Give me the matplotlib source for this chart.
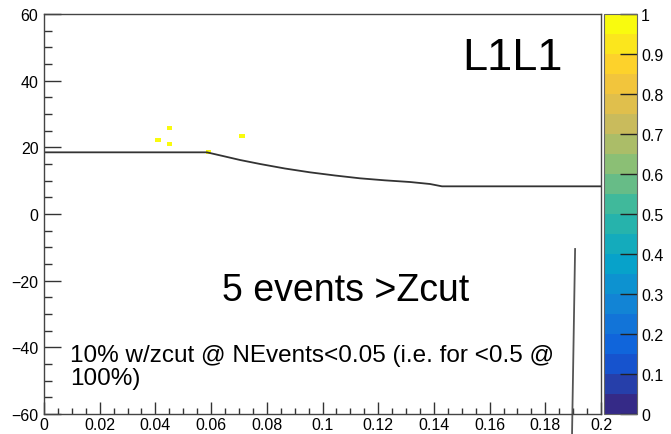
import numpy as np
import matplotlib
matplotlib.use("Agg")
import matplotlib.pyplot as plt
from matplotlib.colors import LinearSegmentedColormap, ListedColormap, Normalize
from matplotlib.ticker import MultipleLocator

plt.rcParams['font.family'] = ['Liberation Sans', 'DejaVu Sans']

# events (x, z)
event_x = [0.041, 0.045, 0.045, 0.059, 0.071]
event_z = [22.2, 25.8, 21.0, 18.6, 23.4]

# zcut curve
cut_x = [0.0, 0.0585, 0.0650, 0.0704, 0.0776, 0.0865, 0.0955, 0.1045, 0.1135,
         0.1224, 0.1314, 0.1386, 0.1429, 0.2]
cut_z = [18.5, 18.5, 17.25, 16.2, 15.0, 13.65, 12.5, 11.55, 10.7,
         10.1, 9.6, 9.0, 8.3, 8.3]

# vertical marker line
vline_x = [0.1907, 0.1896]
vline_z = [-10.5, -66.0]

x_ticks = [0, 0.02, 0.04, 0.06, 0.08, 0.1, 0.12, 0.14, 0.16, 0.18, 0.2]
x_ticklabels = ["0", "0.02", "0.04", "0.06", "0.08", "0.1", "0.12", "0.14", "0.16", "0.18", "0.2"]
y_ticks = [-60, -40, -20, 0, 20, 40, 60]
y_ticklabels = ["\u221260", "\u221240", "\u221220", "0", "20", "40", "60"]
cb_ticks = [0, 0.1, 0.2, 0.3, 0.4, 0.5, 0.6, 0.7, 0.8, 0.9, 1]
cb_ticklabels = ["0", "0.1", "0.2", "0.3", "0.4", "0.5", "0.6", "0.7", "0.8", "0.9", "1"]

# ROOT kBird palette
stops = [0.0, 0.125, 0.25, 0.375, 0.5, 0.625, 0.75, 0.875, 1.0]
red = [0.2082, 0.0592, 0.0780, 0.0232, 0.1802, 0.5301, 0.8186, 0.9956, 0.9764]
green = [0.1664, 0.3599, 0.5041, 0.6419, 0.7178, 0.7492, 0.7328, 0.7862, 0.9832]
blue = [0.5293, 0.8684, 0.8385, 0.7914, 0.6425, 0.4662, 0.3499, 0.1968, 0.0539]
bird = LinearSegmentedColormap.from_list(
    "bird", [(s, (r, g, b)) for s, r, g, b in zip(stops, red, green, blue)])
cmap = ListedColormap(bird(np.linspace(0, 1, 20)))

fig = plt.figure(figsize=(6.71, 4.35), dpi=100)
ax = fig.add_axes([44/671, 1-415/435, 557/671, 400/435])
cax = fig.add_axes([604/671, 1-415/435, 33/671, 400/435])

xedges = np.linspace(0, 0.2, 101)
yedges = np.linspace(-60, 60, 101)
h = ax.hist2d(event_x, event_z, bins=[xedges, yedges], cmap=cmap,
              norm=Normalize(0, 1), cmin=0.5)

ax.plot(cut_x, cut_z, color='#333333', lw=1.3)
ax.plot(vline_x, vline_z, color='#555555', lw=1.3, clip_on=False)

ax.set_xlim(0, 0.2)
ax.set_ylim(-60, 60)
ax.set_xticks(x_ticks)
ax.set_xticklabels(x_ticklabels)
ax.set_yticks(y_ticks)
ax.set_yticklabels(y_ticklabels)
ax.xaxis.set_minor_locator(MultipleLocator(0.005))
ax.yaxis.set_minor_locator(MultipleLocator(5))
ax.tick_params(axis='x', which='major', direction='in', length=9, width=1, labelsize=11.5, pad=2, color='#333333')
ax.tick_params(axis='x', which='minor', direction='in', length=4.5, width=1, color='#333333')
ax.tick_params(axis='y', which='major', direction='in', length=12, width=1, labelsize=11.5, pad=4, color='#333333')
ax.tick_params(axis='y', which='minor', direction='in', length=6, width=1, color='#333333')
for s in ax.spines.values():
    s.set_color('#444444')
    s.set_linewidth(1)

ax.text(0.1500, 47.0, "L1L1", fontsize=32.5, ha='left', va='center', color='black')
ax.text(0.0638, -22.8, "5 events >Zcut", fontsize=27, ha='left', va='center', color='black')
ax.text(0.0093, -45.8, "10% w/zcut @ NEvents<0.05 (i.e. for <0.5 @\n100%)",
        fontsize=17.5, ha='left', va='center', color='black', linespacing=1.05)

cb = fig.colorbar(h[3], cax=cax)
cb.set_ticks(cb_ticks)
cb.set_ticklabels(cb_ticklabels)
cb.ax.tick_params(direction='in', length=12, width=1, labelsize=11.5, pad=3, color='#222222')
cb.outline.set_edgecolor('#666666')
cb.outline.set_linewidth(0.8)

fig.savefig("out.png", dpi=100)
